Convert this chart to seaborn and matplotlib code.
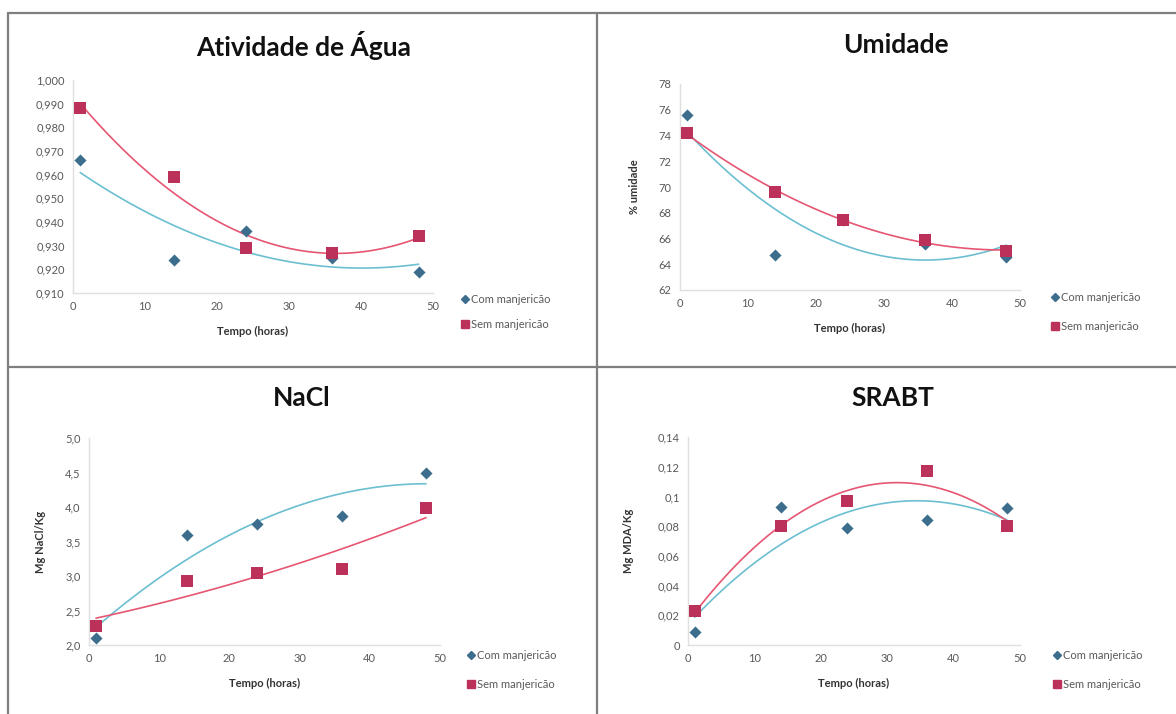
import numpy as np
import pandas as pd
import matplotlib
matplotlib.use("Agg")
import matplotlib.pyplot as plt
from matplotlib.lines import Line2D
import seaborn as sns

sns.set_theme(style="white")
plt.rcParams['font.family'] = ['Lato', 'DejaVu Sans']

# ---- data ----
tempo = [1, 14, 24, 36, 48]
series_names = ["Com manjericão", "Sem manjericão"]

aw_com = [0.966, 0.924, 0.936, 0.925, 0.919]
aw_sem = [0.988, 0.959, 0.929, 0.927, 0.934]

um_com = [75.6, 64.7, 67.4, 65.6, 64.6]
um_sem = [74.2, 69.6, 67.4, 65.9, 65.0]

nacl_com = [2.10, 3.60, 3.75, 3.87, 4.50]
nacl_sem = [2.28, 2.93, 3.04, 3.10, 3.98]

srabt_com = [0.009, 0.093, 0.079, 0.084, 0.092]
srabt_sem = [0.023, 0.080, 0.097, 0.117, 0.080]

titles = ["Atividade de Água", "Umidade", "NaCl", "SRABT"]
ylabels = ["", "% umidade", "Mg NaCl/Kg", "Mg MDA/Kg"]
aw_ticks = [0.910, 0.920, 0.930, 0.940, 0.950, 0.960, 0.970, 0.980, 0.990, 1.000]
aw_ticklabels = ["0,910", "0,920", "0,930", "0,940", "0,950", "0,960", "0,970", "0,980", "0,990", "1,000"]
um_ticks = [62, 64, 66, 68, 70, 72, 74, 76, 78]
um_ticklabels = ["62", "64", "66", "68", "70", "72", "74", "76", "78"]
nacl_ticks = [2.0, 2.5, 3.0, 3.5, 4.0, 4.5, 5.0]
nacl_ticklabels = ["2,0", "2,5", "3,0", "3,5", "4,0", "4,5", "5,0"]
srabt_ticks = [0, 0.02, 0.04, 0.06, 0.08, 0.10, 0.12, 0.14]
srabt_ticklabels = ["0", "0,02", "0,04", "0,06", "0,08", "0,1", "0,12", "0,14"]
x_ticks = [0, 10, 20, 30, 40, 50]
x_ticklabels = ["0", "10", "20", "30", "40", "50"]

# ---- style ----
W, H = 1176, 714
blue_pt = "#3c6d8c"
red_pt = "#bb3159"
blue_ln = "#6bbfd0"
red_ln = "#e65672"
tick_col = "#595959"

fig = plt.figure(figsize=(W / 100, H / 100), dpi=100)
fig.patch.set_facecolor("white")

def rect(l, r, t, b):
    return [l / W, 1 - b / H, (r - l) / W, (b - t) / H]

panels = [
    dict(box=(73, 433, 80, 293), com=aw_com, sem=aw_sem, ticks=aw_ticks, tl=aw_ticklabels,
         title_xy=(304, 45), legend_xy=(462, 300), spacing=1.25, ylab_x=None),
    dict(box=(680, 1020, 84, 290), com=um_com, sem=um_sem, ticks=um_ticks, tl=um_ticklabels,
         title_xy=(896, 45), legend_xy=(1052, 298), spacing=1.6, ylab_x=635),
    dict(box=(89, 440, 438, 645), com=nacl_com, sem=nacl_sem, ticks=nacl_ticks, tl=nacl_ticklabels,
         title_xy=(302, 398), legend_xy=(468, 656), spacing=1.6, ylab_x=40),
    dict(box=(688, 1020, 437, 645), com=srabt_com, sem=srabt_sem, ticks=srabt_ticks, tl=srabt_ticklabels,
         title_xy=(893, 398), legend_xy=(1054, 656), spacing=1.6, ylab_x=629),
]

for i, p in enumerate(panels):
    l, r, t, b = p["box"]
    ax = fig.add_axes(rect(l, r, t, b))
    df = pd.DataFrame({"Tempo": tempo, "com": p["com"], "sem": p["sem"]})
    sns.regplot(data=df, x="Tempo", y="com", order=2, ci=None, scatter=False, ax=ax,
                line_kws=dict(color=blue_ln, lw=1.2))
    sns.regplot(data=df, x="Tempo", y="sem", order=2, ci=None, scatter=False, ax=ax,
                line_kws=dict(color=red_ln, lw=1.2))
    sns.scatterplot(data=df, x="Tempo", y="com", marker="D", s=38, color=blue_pt,
                    edgecolor=blue_pt, linewidth=0, ax=ax, zorder=4)
    sns.scatterplot(data=df, x="Tempo", y="sem", marker="s", s=80, color=red_pt,
                    edgecolor=red_pt, linewidth=0, ax=ax, zorder=5)
    ax.set_xlim(0, 50)
    ax.set_ylim(p["ticks"][0], p["ticks"][-1])
    ax.set_xticks(x_ticks)
    ax.set_xticklabels(x_ticklabels)
    ax.set_yticks(p["ticks"])
    ax.set_yticklabels(p["tl"])
    ax.tick_params(axis="both", labelsize=8, colors=tick_col, length=0, pad=6)
    ax.set_xlabel("Tempo (horas)", fontsize=8, fontweight="bold", color="#333333", labelpad=10)
    ax.set_ylabel("")
    for s in ["top", "right"]:
        ax.spines[s].set_visible(False)
    for s in ["left", "bottom"]:
        ax.spines[s].set_color("#e0e0e0")
        ax.spines[s].set_linewidth(1.0)
    ax.set_facecolor("none")
    for c in ax.collections:
        c.set_clip_on(False)

    # title
    tx, ty = p["title_xy"]
    fig.text(tx / W, 1 - ty / H, titles[i], fontsize=19, fontweight="bold",
             ha="center", va="center", color="#111111")
    # y label
    if p["ylab_x"] is not None:
        fig.text(p["ylab_x"] / W, 1 - ((t + b) / 2) / H, ylabels[i], rotation=90,
                 fontsize=8, fontweight="bold", ha="center", va="center", color="#333333")
    # legend
    handles = [Line2D([], [], marker="D", color=blue_pt, lw=0, markersize=4.5),
               Line2D([], [], marker="s", color=red_pt, lw=0, markersize=6)]
    lx, ly = p["legend_xy"]
    fig.legend(handles, series_names, loc="upper left",
               bbox_to_anchor=(lx / W, 1 - (ly - 6) / H),
               frameon=False, fontsize=8, labelcolor=tick_col,
               handlelength=0.6, handletextpad=0.2, labelspacing=p["spacing"],
               borderpad=0, borderaxespad=0)

# panel borders
bc = "#7f7f7f"
lines = [
    ((8, 8), (13, 714)),
    ((8, 1176), (13, 13)),
    ((597, 597), (13, 714)),
    ((8, 1176), (367, 367)),
]
for xs, ys in lines:
    fig.add_artist(Line2D([x / W for x in xs], [1 - y / H for y in ys], color=bc, lw=1.6))

fig.savefig("out.png", dpi=100, facecolor="white")
